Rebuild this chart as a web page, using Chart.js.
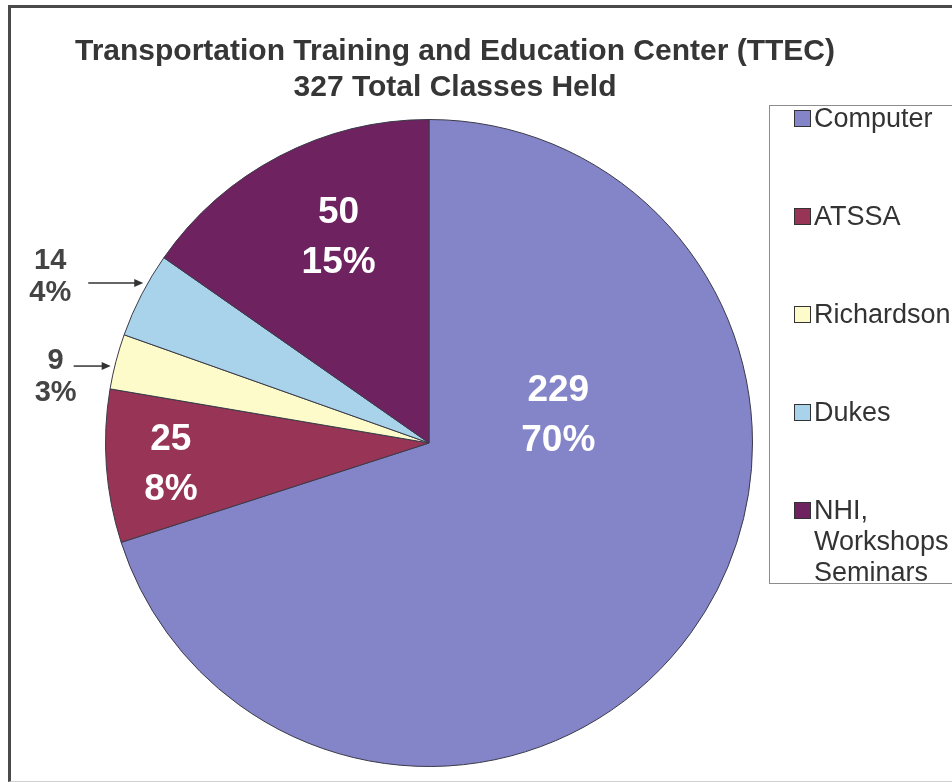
<!DOCTYPE html>
<html>
<head>
<meta charset="utf-8">
<script src="https://cdn.jsdelivr.net/npm/chart.js@4/dist/chart.umd.min.js"></script>
<style>
  html, body { margin: 0; padding: 0; background: #fff; }
  body { width: 952px; height: 782px; position: relative; overflow: hidden; font-family: Arial, "Liberation Sans", sans-serif; }
  #frame { position: absolute; left: 8px; top: 5px; width: 980px; height: 773px; border-left: 3px solid #4a4a4a; border-top: 3px solid #4a4a4a; border-bottom: 1px solid #d0d0d0; }
  #wrap { position: absolute; left: 0; top: 0; width: 952px; height: 782px; }
  .title { position: absolute; left: 0; width: 910px; text-align: center; font-weight: bold; font-size: 30px; color: #363636; line-height: 36px; white-space: nowrap; }
  #legend { position: absolute; left: 769px; top: 105px; width: 220px; height: 477px; border: 1px solid #8c8c8c; background: #fff; }
  .item { position: absolute; left: 24px; display: flex; align-items: flex-start; font-size: 27px; color: #333; line-height: 31px; white-space: nowrap; }
  .swatch { width: 15px; height: 15px; border: 1px solid #333; margin-top: 7px; margin-right: 3px; flex: none; }
</style>
</head>
<body>
<div id="frame"></div>
<div id="wrap"><canvas id="chart"></canvas></div>
<div class="title" id="t1" style="top:32px"></div>
<div class="title" id="t2" style="top:68px"></div>
<div id="legend"></div>
<script>
const titleLines = ['Transportation Training and Education Center (TTEC)', '327 Total Classes Held'];
const categories = ['Computer', 'ATSSA', 'Richardson', 'Dukes', 'NHI, Workshops Seminars'];
const legendNames = [['Computer'], ['ATSSA'], ['Richardson'], ['Dukes'], ['NHI,', 'Workshops', 'Seminars']];
const classCounts = [229, 25, 9, 14, 50];
const sliceColors = ['#8484c9', '#983456', '#fdfbc9', '#a9d3ea', '#6e2360'];

const total = classCounts.reduce((a, b) => a + b, 0);
const percents = classCounts.map(v => Math.round(v / total * 100));

// where each slice's label sits (inside: fraction of radius; outside: arrow + text offset)
const labelSpots = [
  { frac: 0.41, turn: -49 },
  { frac: 0.80, turn: 0 },
  { outside: true, turn: -1, tail: 37, dx: -55, dy: 9 },
  { outside: true, turn: 2, tail: 55, dx: -93, dy: -8 },
  { frac: 0.70, turn: 4 }
];

document.getElementById('t1').textContent = titleLines[0];
document.getElementById('t2').textContent = titleLines[1];

const legendEl = document.getElementById('legend');
legendNames.forEach((lines, i) => {
  const it = document.createElement('div');
  it.className = 'item';
  it.style.top = (-3 + i * 98) + 'px';
  const sw = document.createElement('div');
  sw.className = 'swatch';
  sw.style.background = sliceColors[i];
  const tx = document.createElement('div');
  tx.innerHTML = lines.join('<br>');
  it.appendChild(sw);
  it.appendChild(tx);
  legendEl.appendChild(it);
});

const sliceLabels = {
  id: 'sliceLabels',
  afterDatasetsDraw(chart) {
    const ctx = chart.ctx;
    const arcs = chart.getDatasetMeta(0).data;
    ctx.save();
    ctx.textAlign = 'center';
    ctx.textBaseline = 'alphabetic';
    arcs.forEach((arc, i) => {
      const spot = labelSpots[i];
      const a = (arc.startAngle + arc.endAngle) / 2 + spot.turn * Math.PI / 180;
      const lines = [String(classCounts[i]), percents[i] + '%'];
      if (!spot.outside) {
        const r = arc.outerRadius * spot.frac;
        const x = arc.x + Math.cos(a) * r;
        const y = arc.y + Math.sin(a) * r;
        ctx.font = 'bold 37px Arial, "Liberation Sans", sans-serif';
        ctx.fillStyle = '#ffffff';
        ctx.fillText(lines[0], x, y - 25 + 13);
        ctx.fillText(lines[1], x, y + 25 + 13);
      } else {
        const r = arc.outerRadius + 4;
        const tipX = arc.x + Math.cos(a) * r;
        const tipY = arc.y + Math.sin(a) * r;
        ctx.strokeStyle = '#333';
        ctx.fillStyle = '#333';
        ctx.lineWidth = 1.5;
        ctx.beginPath();
        ctx.moveTo(tipX - spot.tail, tipY);
        ctx.lineTo(tipX - 7, tipY);
        ctx.stroke();
        ctx.beginPath();
        ctx.moveTo(tipX, tipY);
        ctx.lineTo(tipX - 9, tipY - 4);
        ctx.lineTo(tipX - 9, tipY + 4);
        ctx.closePath();
        ctx.fill();
        const x = tipX + spot.dx;
        const y = tipY + spot.dy;
        ctx.font = 'bold 29px Arial, "Liberation Sans", sans-serif';
        ctx.fillStyle = '#444';
        ctx.fillText(lines[0], x, y - 16 + 10);
        ctx.fillText(lines[1], x, y + 16 + 10);
      }
    });
    ctx.restore();
  }
};

new Chart(document.getElementById('chart'), {
  type: 'pie',
  data: {
    labels: categories,
    datasets: [{
      data: classCounts,
      backgroundColor: sliceColors,
      borderColor: '#3a3a48',
      borderWidth: 1
    }]
  },
  options: {
    responsive: true,
    maintainAspectRatio: false,
    animation: false,
    layout: { padding: { left: 105, right: 199, top: 119, bottom: 15 } },
    plugins: {
      legend: { display: false },
      title: { display: false },
      tooltip: { enabled: false }
    }
  },
  plugins: [sliceLabels]
});
</script>
</body>
</html>
